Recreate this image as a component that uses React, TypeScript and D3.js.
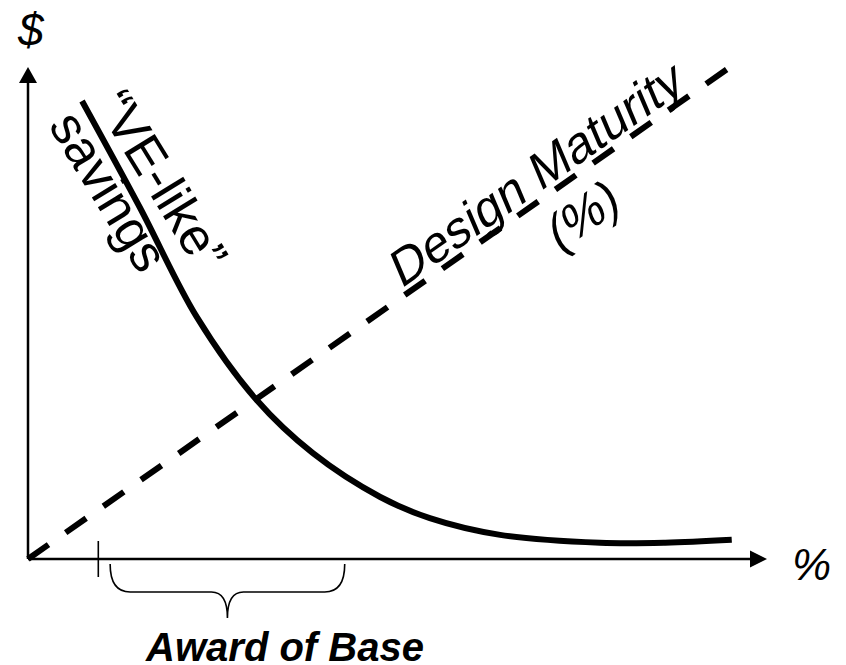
import React from "react";
import * as d3 from "d3";

// ---- data (percent of axis extents) ----
const savingsX = [7.3, 15.1, 22.8, 30.9, 38.5, 47.6, 54.3, 63.8, 77.3, 86.1, 95.1];
const savingsY = [93.1, 71.5, 49.2, 32.3, 21.5, 12.6, 8.3, 4.9, 3.3, 3.3, 3.9];
const maturityX = [0, 94.9];
const maturityY = [0, 100];
const awardTick = [9.5];
const awardBrace = [11.1, 42.8];
const labels = {
  yAxis: "$",
  xAxis: "%",
  award: "Award of Base",
  veLine1: "\u201CVE-like\u201D",
  veLine2: "savings",
  dmLine1: "Design Maturity",
  dmLine2: "(%)",
};

const W = 846;
const H = 665;
const FONT = "'Liberation Sans', Arial, Helvetica, sans-serif";

export default function App() {
  const x = d3.scaleLinear().domain([0, 100]).range([28, 768]);
  const y = d3.scaleLinear().domain([0, 100]).range([559, 67]);

  const savingsPts: [number, number][] = savingsX.map((v, i) => [v, savingsY[i]]);
  const savingsPath = d3
    .line<[number, number]>()
    .x((d) => x(d[0]))
    .y((d) => y(d[1]))
    .curve(d3.curveCatmullRom.alpha(0.5))(savingsPts) as string;

  const matPts: [number, number][] = maturityX.map((v, i) => [v, maturityY[i]]);
  const matPath = d3
    .line<[number, number]>()
    .x((d) => x(d[0]))
    .y((d) => y(d[1]))(matPts) as string;

  const x0 = x(0);
  const y0 = y(0);
  const xEnd = x(100);
  const yEnd = y(100);

  const mdx = x(maturityX[1]) - x(maturityX[0]);
  const mdy = y(maturityY[1]) - y(maturityY[0]);
  const matAngle = (Math.atan2(mdy, mdx) * 180) / Math.PI;

  const bL = x(awardBrace[0]);
  const bR = x(awardBrace[1]);
  const bM = (bL + bR) / 2;
  const bTop = 564;
  const bMid = 592;
  const bTip = 618;
  const bracePath = `M${bL},${bTop} Q${bL},${bMid} ${bL + 20},${bMid} L${bM - 16},${bMid} Q${bM},${bMid} ${bM},${bTip} Q${bM},${bMid} ${bM + 16},${bMid} L${bR - 20},${bMid} Q${bR},${bMid} ${bR},${bTop}`;

  const veAnchor: [number, number] = [x(savingsX[0]), y(savingsY[0])];

  return (
    <svg
      width={W}
      height={H}
      viewBox={`0 0 ${W} ${H}`}
      style={{ position: "absolute", left: 0, top: 0, display: "block", background: "#fff" }}
      fontFamily={FONT}
    >
      <rect x={0} y={0} width={W} height={H} fill="#fff" />
      {/* axes */}
      <line x1={x0} y1={y0} x2={x0} y2={yEnd + 14} stroke="#000" strokeWidth={2.5} />
      <path d={`M${x0},${yEnd} L${x0 - 9},${yEnd + 16} L${x0 + 9},${yEnd + 16} Z`} fill="#000" />
      <line x1={x0} y1={y0} x2={xEnd - 15} y2={y0} stroke="#000" strokeWidth={2.5} />
      <path d={`M${xEnd - 1},${y0} L${xEnd - 18},${y0 - 8.5} L${xEnd - 18},${y0 + 8.5} Z`} fill="#000" />

      {/* axis labels */}
      <text x={18} y={46} fontSize={46} fontStyle="italic" fill="#000">
        {labels.yAxis}
      </text>
      <text x={792} y={580} fontSize={44} fontStyle="italic" fill="#000">
        {labels.xAxis}
      </text>

      {/* award tick and brace */}
      {awardTick.map((t, i) => (
        <line key={i} x1={x(t)} x2={x(t)} y1={541} y2={577} stroke="#000" strokeWidth={1.6} />
      ))}
      <path d={bracePath} fill="none" stroke="#000" strokeWidth={1.6} />
      <text x={285} y={661} fontSize={40} fontWeight="bold" fontStyle="italic" textAnchor="middle" fill="#000">
        {labels.award}
      </text>

      {/* design maturity dashed line */}
      <path d={matPath} fill="none" stroke="#000" strokeWidth={6} strokeDasharray="25,21" />

      {/* savings curve */}
      <path d={savingsPath} fill="none" stroke="#000" strokeWidth={6} />

      {/* VE-like label */}
      <g transform={`translate(${veAnchor[0]},${veAnchor[1]}) rotate(58.5)`}>
        <text x={10} y={-9} fontSize={52} fill="#000">
          {labels.veLine1}
        </text>
        <text x={3} y={42} fontSize={52} fill="#000">
          {labels.veLine2}
        </text>
      </g>

      {/* design maturity label */}
      <g transform={`translate(${x0},${y0}) rotate(${matAngle}) skewX(-12)`}>
        <text x={459} y={-7} fontSize={50} fill="#000">
          {labels.dmLine1}
        </text>
        <text x={660} y={54} fontSize={50} textAnchor="middle" fill="#000">
          {labels.dmLine2}
        </text>
      </g>
    </svg>
  );
}
